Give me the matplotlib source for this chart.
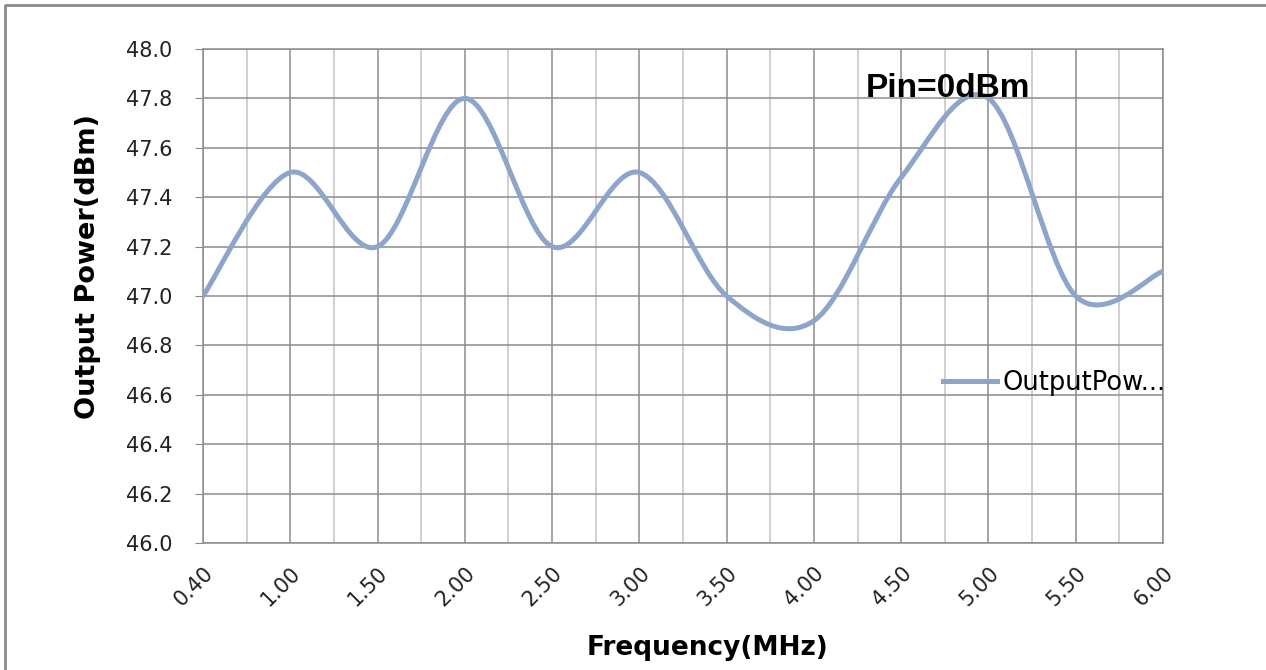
import numpy as np
import matplotlib.pyplot as plt
from matplotlib.path import Path
from matplotlib.patches import PathPatch
from matplotlib.lines import Line2D

# categories on the x axis
freq = ['0.40', '1.00', '1.50', '2.00', '2.50', '3.00', '3.50', '4.00',
        '4.50', '5.00', '5.50', '6.00']
power = [47.00, 47.50, 47.20, 47.80, 47.20, 47.50, 47.00, 46.90,
         47.48, 47.80, 47.00, 47.10]
yticks = [46.0, 46.2, 46.4, 46.6, 46.8, 47.0, 47.2, 47.4, 47.6, 47.8, 48.0]

line_color = '#8EA5CB'
grid_dark = '#8c8c8c'
grid_light = '#c4c4c4'

fig = plt.figure(figsize=(12.66, 6.70), dpi=100)
ax = fig.add_axes([203 / 1266, 1 - 543 / 670, 960 / 1266, 494 / 670])

# outer chart border (top + left edges visible)
fig.add_artist(Line2D([5 / 1266, 5 / 1266, 1.0], [0.0, 1 - 5 / 670, 1 - 5 / 670],
                      transform=fig.transFigure, color='#8a8a8a', lw=2))

x = np.arange(len(freq))
y = np.array(power)

# smoothed line like Excel: cubic bezier segments through the data points
px = np.concatenate([[x[0]], x, [x[-1]]])
py = np.concatenate([[y[0]], y, [y[-1]]])
verts = [(x[0], y[0])]
codes = [Path.MOVETO]
for i in range(1, len(px) - 2):
    c1 = (px[i] + (px[i + 1] - px[i - 1]) / 6, py[i] + (py[i + 1] - py[i - 1]) / 6)
    c2 = (px[i + 1] - (px[i + 2] - px[i]) / 6, py[i + 1] - (py[i + 2] - py[i]) / 6)
    verts += [c1, c2, (px[i + 1], py[i + 1])]
    codes += [Path.CURVE4] * 3
ax.add_patch(PathPatch(Path(verts, codes), fill=False, edgecolor=line_color,
                       lw=3.6, capstyle='round', joinstyle='round', zorder=3))

ax.set_xlim(0, len(freq) - 1)
ax.set_ylim(46.0, 48.0)

# grid: major lines dark, minor vertical lines light
ax.set_yticks(yticks)
ax.set_xticks(x)
ax.set_xticks(x[:-1] + 0.5, minor=True)
ax.grid(True, which='major', color=grid_dark, lw=1.1, zorder=1)
ax.grid(True, which='minor', axis='x', color=grid_light, lw=1.1, zorder=1)
ax.set_axisbelow(True)

for s in ax.spines.values():
    s.set_color(grid_dark)
    s.set_linewidth(1.1)

ax.set_yticklabels(['%.1f' % v for v in yticks], fontsize=15, color='#222222')
ax.tick_params(axis='y', length=6, color=grid_dark, pad=16)

ax.set_xticklabels(freq, rotation=45, ha='right', va='top',
                   rotation_mode='anchor', fontsize=15, color='#222222')
ax.tick_params(axis='x', which='both', length=0, pad=14)

ax.set_ylabel('Output Power(dBm)', fontsize=19.5, fontweight='bold')
ax.yaxis.set_label_coords(-0.106, 0.56)
ax.set_xlabel('Frequency(MHz)', fontsize=19, fontweight='bold')
ax.xaxis.set_label_coords(0.526, -0.186)

ax.text((866 - 203) / 960, (543 - 97) / 494, 'Pin=0dBm', transform=ax.transAxes,
        fontsize=24, fontweight='bold', family=['Liberation Sans', 'DejaVu Sans'],
        ha='left', va='baseline', zorder=4)

handle = Line2D([], [], color=line_color, lw=3.6)
leg = ax.legend([handle], ['OutputPow...'], loc='center left',
                bbox_to_anchor=((943 - 203) / 960, (543 - 383) / 494),
                frameon=False, fontsize=18.5, handlelength=2.1,
                handletextpad=0.2, borderpad=0, borderaxespad=0)
leg.set_zorder(5)

fig.savefig('out.png', dpi=100)
